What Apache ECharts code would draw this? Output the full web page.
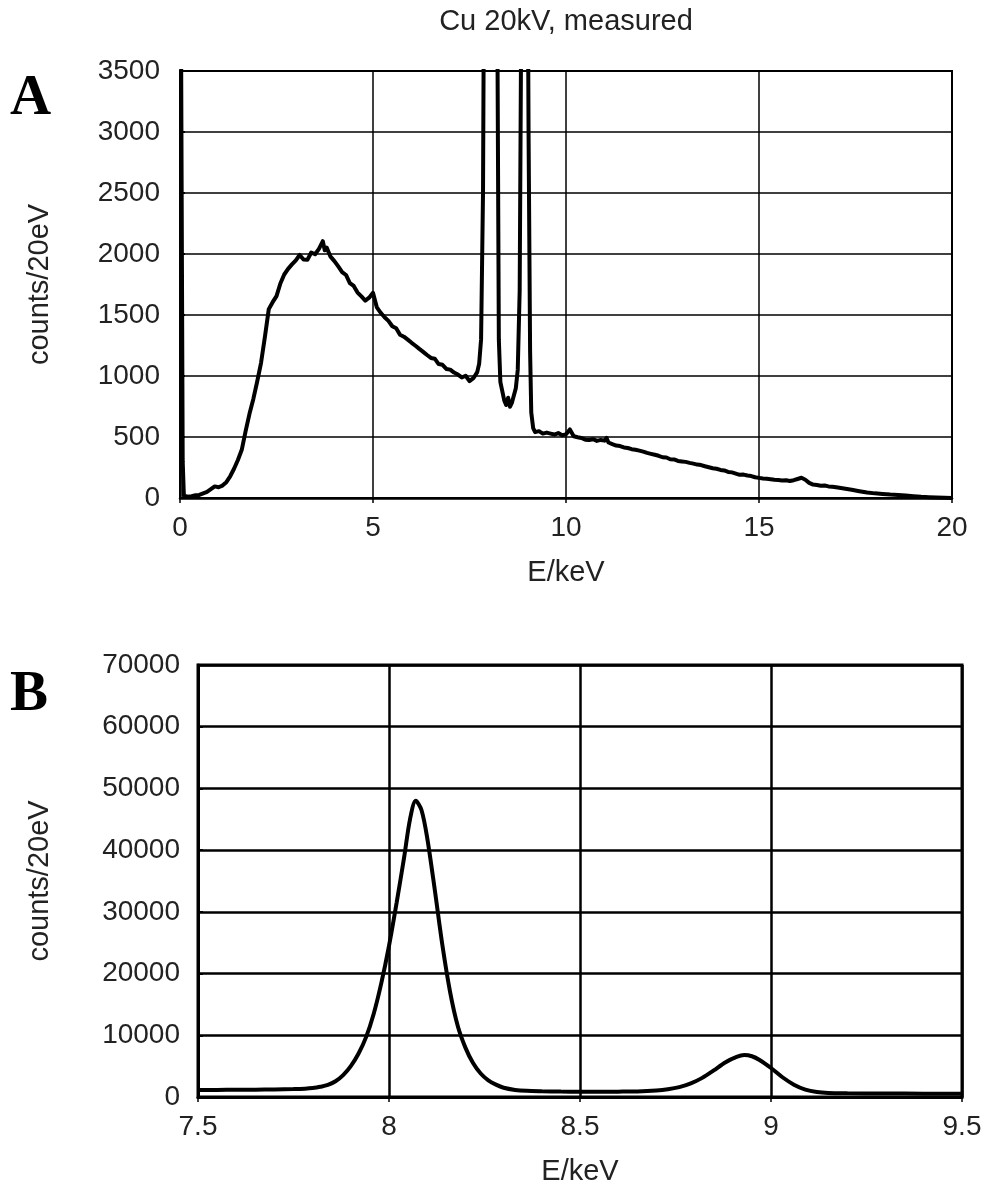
<!DOCTYPE html>
<html>
<head>
<meta charset="utf-8">
<script src="https://cdn.jsdelivr.net/npm/echarts@6/dist/echarts.min.js"></script>
<style>
html,body{margin:0;padding:0;background:#fff;}
#chart{width:988px;height:1192px;}
</style>
</head>
<body>
<div id="chart"></div>
<script>
// ---------- Panel A: full spectrum (E in keV, counts per 20 eV) ----------
const energyA = [
  0.00,0.04,0.07,0.10,0.2,0.3,0.4,0.5,0.6,0.7,0.8,0.9,1.0,1.1,1.2,1.3,1.4,1.5,1.6,1.7,1.8,1.9,
  2.0,2.1,2.2,2.3,2.4,2.5,2.6,2.7,2.8,2.9,3.0,3.1,3.2,3.3,3.4,3.5,3.6,3.7,3.75,3.8,3.9,
  4.0,4.1,4.2,4.3,4.4,4.5,4.6,4.7,4.8,4.9,5.0,5.1,5.2,5.3,5.4,5.5,5.6,5.7,5.8,5.9,
  6.0,6.1,6.2,6.3,6.4,6.5,6.6,6.7,6.8,6.9,7.0,7.1,7.2,7.3,7.4,7.5,7.6,7.7,7.75,7.8,7.85,7.9,
  8.0,8.07,8.15,8.22,8.26,8.3,8.4,8.45,8.5,8.55,8.6,8.65,8.7,8.75,8.8,8.85,8.93,9.0,9.03,9.07,
  9.1,9.15,9.2,9.3,9.4,9.5,9.6,9.7,9.8,9.9,10.0,10.1,10.2,10.3,10.4,10.5,10.6,10.7,10.8,10.9,
  11.0,11.05,11.1,11.2,11.3,11.4,11.5,11.6,11.7,11.8,11.9,12.0,12.1,12.2,12.3,12.4,12.5,12.6,12.7,12.8,12.9,
  13.0,13.1,13.2,13.3,13.4,13.5,13.6,13.7,13.8,13.9,14.0,14.1,14.2,14.3,14.4,14.5,14.6,14.7,14.8,14.9,
  15.0,15.1,15.2,15.3,15.4,15.5,15.6,15.7,15.8,15.9,16.0,16.1,16.2,16.3,16.4,16.5,16.6,16.7,16.8,16.9,
  17.0,17.2,17.4,17.6,17.8,18.0,18.2,18.4,18.6,18.8,19.0,19.2,19.4,19.6,19.8,20.0
];
const countsA = [
  6000,6000,300,20,10,15,22,25,38,50,72,95,88,102,130,178,240,312,395,548,690,812,
  955,1108,1322,1548,1605,1655,1758,1832,1878,1915,1948,1992,1955,1952,2012,1998,2042,2105,2030,2052,1978,
  1942,1898,1852,1828,1762,1738,1684,1652,1618,1642,1682,1562,1518,1482,1452,1408,1392,1338,1322,1298,
  1272,1248,1222,1198,1172,1148,1142,1098,1092,1058,1052,1028,1012,988,1002,958,982,1032,1100,1300,2500,6000,
  30000,48000,30000,4000,1300,950,800,762,822,748,782,768,900,1050,1700,4500,6900,5000,3000,1200,
  700,572,540,548,528,536,528,520,532,514,522,562,506,498,492,478,476,482,468,476,
  470,492,455,442,430,426,414,410,400,396,388,380,370,362,354,346,334,332,318,316,304,
  300,296,288,282,274,270,260,252,244,240,230,226,214,210,200,190,192,184,180,170,
  165,160,158,154,150,148,144,146,140,146,156,166,150,124,110,106,100,102,95,92,
  88,78,68,56,45,38,33,28,25,20,15,10,7,4,2,0
];
const xTicksA = {min: 0, max: 20, interval: 5};
const yTicksA = {min: 0, max: 3500, interval: 500};

// ---------- Panel B: Cu K-lines zoom ----------
const energyB = [
  7.50,7.55,7.60,7.65,7.70,7.75,7.78,7.80,7.82,7.84,7.86,7.88,7.90,7.92,7.94,7.96,7.98,
  8.00,8.02,8.04,8.055,8.07,8.085,8.10,8.12,8.14,8.16,8.18,8.20,8.22,8.24,8.26,8.28,8.30,8.33,8.36,
  8.40,8.45,8.50,8.55,8.60,8.65,8.70,8.73,8.76,8.79,8.82,8.85,8.88,8.91,8.93,8.95,8.97,
  9.00,9.03,9.06,9.09,9.12,9.15,9.20,9.30,9.40,9.50
];
const countsB = [
  1150,1150,1170,1190,1220,1280,1350,1450,1650,1950,2550,3550,5000,7000,9700,13500,18500,
  24500,31500,39000,45000,48000,46500,42000,33500,24500,17000,11500,8000,5500,3800,2700,2000,1500,1150,1000,
  930,880,860,860,870,900,1050,1250,1600,2200,3100,4300,5600,6500,6800,6600,6000,
  4700,3200,2000,1200,800,650,600,560,540,520
];
const xTicksB = {min: 7.5, max: 9.5, interval: 0.5};
const yTicksB = {min: 0, max: 70000, interval: 10000};

const titleText = 'Cu 20kV, measured';
const xName = 'E/keV';
const yName = 'counts/20eV';
const panelLetters = ['A', 'B'];

const FONT = "'Liberation Sans', Arial, sans-serif";
const TXT = '#222';

function pairs(xs, ys) { return xs.map((x, i) => [x, ys[i]]); }
const plain = v => String(v);

function xAxisCfg(idx, t) {
  return {
    type: 'value', gridIndex: idx, min: t.min, max: t.max, interval: t.interval,
    name: xName, nameLocation: 'middle', nameGap: 60,
    nameTextStyle: {fontFamily: FONT, fontSize: 29, color: TXT},
    axisLine: {show: true, onZero: false, lineStyle: {color: '#000', width: idx ? 3 : 2.5}},
    axisTick: {show: true, inside: false, length: 5, lineStyle: {color: '#000', width: 1.5}},
    axisLabel: {fontFamily: FONT, fontSize: 28, color: TXT, margin: 16, formatter: plain,
                showMinLabel: true, showMaxLabel: true},
    splitLine: {show: true, lineStyle: {color: '#000', width: idx ? 2.5 : 1.5}}
  };
}
function yAxisCfg(idx, t, margin) {
  return {
    type: 'value', gridIndex: idx, min: t.min, max: t.max, interval: t.interval,
    name: yName, nameLocation: 'middle', nameGap: idx ? 144 : 126, nameRotate: 90,
    nameTextStyle: {fontFamily: FONT, fontSize: 29, color: TXT},
    axisLine: {show: true, onZero: false, lineStyle: {color: '#000', width: idx ? 3 : 2.5}},
    axisTick: {show: true, inside: true, length: 5, lineStyle: {color: '#000', width: 2}},
    axisLabel: {fontFamily: FONT, fontSize: 28, color: TXT, margin: margin, formatter: plain},
    splitLine: {show: true, lineStyle: {color: '#000', width: idx ? 2.5 : 1.5}}
  };
}

const chart = echarts.init(document.getElementById('chart'), null, {renderer: 'canvas'});
chart.setOption({
  animation: false,
  backgroundColor: '#fff',
  grid: [
    {left: 180, top: 71, width: 772, height: 427, show: true, borderColor: '#000', borderWidth: 2, backgroundColor: 'transparent'},
    {left: 198, top: 665, width: 764, height: 432, show: true, borderColor: '#000', borderWidth: 3, backgroundColor: 'transparent'}
  ],
  xAxis: [xAxisCfg(0, xTicksA), xAxisCfg(1, xTicksB)],
  yAxis: [yAxisCfg(0, yTicksA, 20), yAxisCfg(1, yTicksB, 18)],
  graphic: [
    {type: 'text', x: 566, y: 22, style: {text: titleText, font: "29px 'Liberation Sans', Arial, sans-serif", fill: TXT, align: 'center', verticalAlign: 'middle'}, z: 10},
    {type: 'text', x: 10, y: 71, style: {text: panelLetters[0], font: "bold 57px 'Liberation Serif', 'Times New Roman', serif", fill: '#000'}, z: 10},
    {type: 'text', x: 10, y: 667, style: {text: panelLetters[1], font: "bold 57px 'Liberation Serif', 'Times New Roman', serif", fill: '#000'}, z: 10}
  ],
  series: [
    {type: 'line', xAxisIndex: 0, yAxisIndex: 0, data: pairs(energyA, countsA), showSymbol: false,
     clip: true, lineStyle: {color: '#000', width: 4, join: 'round'}, z: 5},
    {type: 'line', xAxisIndex: 1, yAxisIndex: 1, data: pairs(energyB, countsB), showSymbol: false,
     smooth: 0.3, clip: true, lineStyle: {color: '#000', width: 4}, z: 5}
  ]
});
</script>
</body>
</html>
